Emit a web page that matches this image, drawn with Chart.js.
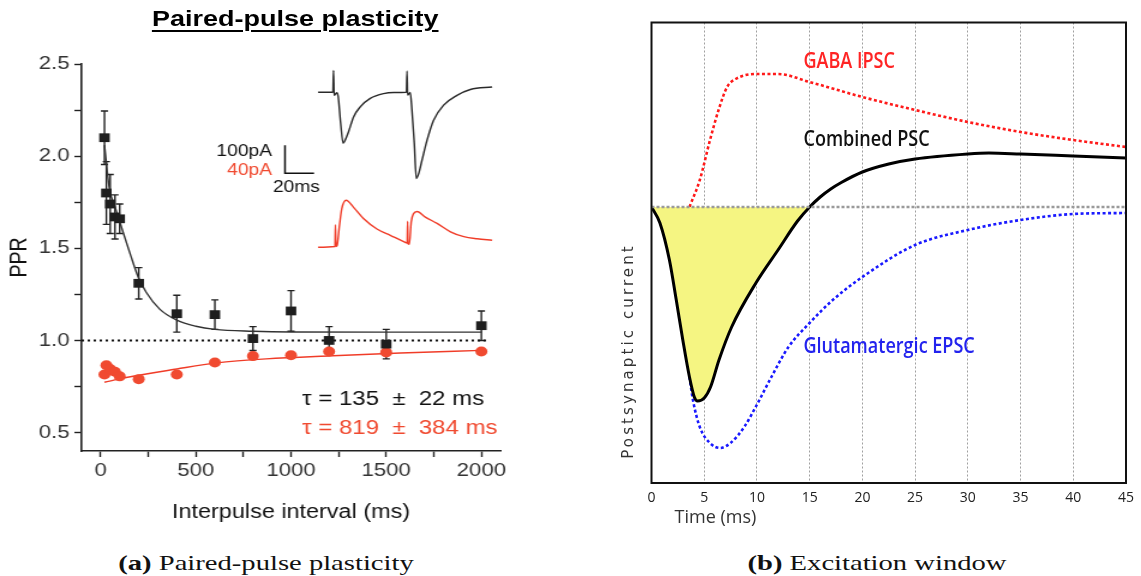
<!DOCTYPE html>
<html>
<head>
<meta charset="utf-8">
<script src="https://cdn.jsdelivr.net/npm/chart.js@4.4.1/dist/chart.umd.min.js"></script>
<style>
  body { margin:0; background:#fff; width:1141px; height:576px; overflow:hidden; position:relative; }
  #panelA { position:absolute; left:0; top:0; width:434px; height:540px; transform:scaleX(1.2); transform-origin:0 0; }
  #titleA { position:absolute; left:0; top:6px; width:492px; text-align:center; font:bold 22.5px 'Liberation Sans', Arial, sans-serif; line-height:26px; text-decoration:underline; text-decoration-thickness:2px; text-underline-offset:4px; color:#000; }
  #chartA { position:absolute; left:0; top:0; }
  #panelB { position:absolute; left:600px; top:0; width:541px; height:540px; }
  .caption { position:absolute; top:549px; width:400px; text-align:center; font:22px 'Liberation Serif', serif; line-height:28px; color:#111; white-space:nowrap; transform:scaleX(1.3); transform-origin:50% 50%; }
</style>
</head>
<body>
<div id="panelA">
  <div id="titleA">Paired-pulse plasticity</div>
  <canvas id="chartA" width="434" height="540"></canvas>
</div>
<div id="panelB">
  <canvas id="chartB" width="541" height="540"></canvas>
</div>
<div class="caption" style="left:66px"><b>(a)</b> Paired-pulse plasticity</div>
<div class="caption" style="left:677px"><b>(b)</b> Excitation window</div>

<script>
Chart.defaults.font.family = "'Liberation Sans', Arial, sans-serif";

// (a) paired-pulse ratio vs interpulse interval
const ippX = [20, 30, 50, 75, 100, 200, 400, 600, 800, 1000, 1200, 1500, 2000];
const pprBlack = [2.10, 1.80, 1.74, 1.67, 1.66, 1.31, 1.145, 1.14, 1.01, 1.16, 1.00, 0.98, 1.08];
const pprBlackErr = [0.145, 0.17, 0.16, 0.12, 0.08, 0.085, 0.10, 0.08, 0.065, 0.11, 0.075, 0.08, 0.08];
const pprRed = [0.815, 0.865, 0.845, 0.83, 0.805, 0.79, 0.815, 0.88, 0.915, 0.92, 0.94, 0.935, 0.94];

// tick positions (labels only on every other one)
const ippTicks = [0, 250, 500, 750, 1000, 1250, 1500, 1750, 2000];
const pprTicks = [0.5, 0.75, 1.0, 1.25, 1.5, 1.75, 2.0, 2.25, 2.5];

// exponential fits
const fitBlackX = [20, 45, 80, 120, 155, 195, 240, 310, 400, 500, 600, 800, 1000, 1500, 2000];
const fitBlackY = [2.06, 1.83, 1.71, 1.58, 1.47, 1.35, 1.26, 1.17, 1.11, 1.077, 1.06, 1.05, 1.046, 1.045, 1.045];
const fitRedX = [20, 120, 400, 610, 870, 1220, 1575, 2000];
const fitRedY = [0.773, 0.796, 0.845, 0.878, 0.90, 0.917, 0.932, 0.946];
const unityX = [-100, 2040];
const unityY = [1, 1];

// inset traces (ms, pA)
const traceT = [0, 10.2, 10.6, 11.0, 12.8, 13.8, 15.5, 17.2, 18.6, 20.9, 24.4, 29.0, 35.9, 45.0, 52.0, 60.8, 61.2, 61.6, 63.4, 64.6, 66.2, 67.6, 69.2, 71.5, 75.0, 79.5, 86.4, 95.6, 104.8, 119.8];
const traceBlack = [0, 0, 78, -11, -2, -15, -110, -182, -171, -142, -88, -52, -22, -5, -1, 0, 76, -10, -1, -64, -182, -308, -291, -243, -171, -100, -46, -11, 10, 19];
const traceRedT = [0, 11.6, 11.9, 12.3, 13.0, 14.7, 16.3, 19.3, 24.4, 31.2, 40.5, 49.7, 58.9, 61.3, 61.6, 61.9, 62.8, 64.1, 65.7, 68.1, 73.8, 81.9, 91.1, 100.3, 109.5, 119.8];
const traceRed = [0, 1, 32, 1, 2, 31, 55, 67, 57, 41, 26, 17, 8, 6, 37, 5, 4, 36, 48, 51, 43, 34, 22, 15, 12, 10];
const scaleBarT = [-22.8, -22.8, -2.8];
const scaleBarI = [-189, -289, -289];

// (b) excitation window (arbitrary units)
const zeroT = [0, 45];
const zeroV = [0, 0];
const pscT = [0, 0.8, 1.7, 2.35, 2.97, 3.6, 4.06, 4.37, 5.0, 5.6, 6.4, 7.6, 9.9, 12.0, 13.85, 15, 16, 17, 18, 20, 22.5, 25, 30, 32, 35, 40, 45];
const pscV = [0, -0.16, -0.53, -0.93, -1.33, -1.70, -1.90, -1.94, -1.91, -1.80, -1.53, -1.20, -0.76, -0.43, -0.14, 0.0, 0.10, 0.18, 0.245, 0.35, 0.43, 0.48, 0.53, 0.54, 0.53, 0.51, 0.49];
const ipscT = [3.6, 4.58, 5.55, 6.36, 7.17, 7.98, 10, 12, 15, 20, 25, 30, 35, 40, 45];
const ipscV = [0, 0.27, 0.67, 0.97, 1.20, 1.28, 1.33, 1.33, 1.25, 1.10, 0.97, 0.85, 0.75, 0.67, 0.60];
const epscT = [3.6, 3.93, 4.58, 5.55, 6.52, 7.49, 8.79, 9.98, 11.37, 12.99, 14.99, 17.19, 20, 25, 30, 35, 40, 45];
const epscV = [-1.70, -1.93, -2.20, -2.36, -2.41, -2.36, -2.20, -1.98, -1.70, -1.40, -1.16, -0.93, -0.70, -0.38, -0.23, -0.13, -0.07, -0.06];

const pts = (xs, ys) => xs.map((x, i) => ({ x: x, y: ys[i] }));
const isStep = (v, s) => Math.abs(v / s - Math.round(v / s)) < 1e-6;

// text drawn at data coordinates
const notes = items => ({
  id: 'notes',
  afterDatasetsDraw(chart) {
    const ctx = chart.ctx;
    items.forEach(n => {
      const px = chart.scales[n.xAxis || 'x'].getPixelForValue(n.x);
      const py = chart.scales[n.yAxis || 'y'].getPixelForValue(n.y);
      ctx.save();
      ctx.translate(px, py);
      if (n.rot) ctx.rotate(n.rot);
      ctx.scale(n.sx || 1, 1);
      ctx.font = n.font;
      if (n.spacing) ctx.letterSpacing = n.spacing;
      ctx.fillStyle = n.color;
      ctx.textAlign = n.align || 'left';
      ctx.textBaseline = 'middle';
      ctx.fillText(n.text, 0, 0);
      ctx.restore();
    });
  }
});

const errorBars = {
  id: 'errorBars',
  beforeDatasetsDraw(chart) {
    const { ctx, scales: { x, y } } = chart;
    ctx.save();
    ctx.strokeStyle = '#222';
    ctx.lineWidth = 1.4;
    ippX.forEach((v, i) => {
      const px = x.getPixelForValue(v);
      const top = y.getPixelForValue(pprBlack[i] + pprBlackErr[i]);
      const bot = y.getPixelForValue(pprBlack[i] - pprBlackErr[i]);
      ctx.beginPath();
      ctx.moveTo(px, top); ctx.lineTo(px, bot);
      ctx.moveTo(px - 3, top); ctx.lineTo(px + 3, top);
      ctx.moveTo(px - 3, bot); ctx.lineTo(px + 3, bot);
      ctx.stroke();
    });
    ctx.restore();
  }
};

const frame = {
  id: 'frame',
  afterDatasetsDraw(chart) {
    const { ctx, chartArea: a } = chart;
    ctx.save();
    ctx.strokeStyle = '#111';
    ctx.lineWidth = 2;
    ctx.strokeRect(a.left, a.top, a.right - a.left, a.bottom - a.top);
    ctx.restore();
  }
};

const red = '#f04a30';
const lbl = "'Liberation Sans', Arial, sans-serif";

new Chart(document.getElementById('chartA'), {
  type: 'line',
  data: {
    datasets: [
      { data: pts(ippX, pprBlack), showLine: false, pointStyle: 'rect', pointRadius: 6.2, pointBackgroundColor: '#1e1e1e', pointBorderWidth: 0 },
      { data: pts(ippX, pprRed), showLine: false, pointStyle: 'circle', pointRadius: 5, pointBackgroundColor: red, pointBorderWidth: 0 },
      { data: pts(fitBlackX, fitBlackY), borderColor: '#333', borderWidth: 1.4, pointRadius: 0, cubicInterpolationMode: 'monotone' },
      { data: pts(fitRedX, fitRedY), borderColor: '#f03c28', borderWidth: 1.4, pointRadius: 0, cubicInterpolationMode: 'monotone' },
      { data: pts(unityX, unityY), borderColor: '#111', borderWidth: 2, borderDash: [2, 3], pointRadius: 0 },
      { data: pts(traceT, traceBlack), xAxisID: 'xi', yAxisID: 'yi', borderColor: '#2a2a2a', borderWidth: 1.4, pointRadius: 0, cubicInterpolationMode: 'monotone' },
      { data: pts(traceRedT, traceRed), xAxisID: 'xi', yAxisID: 'yr', borderColor: '#f03c28', borderWidth: 1.4, pointRadius: 0, cubicInterpolationMode: 'monotone' },
      { data: pts(scaleBarT, scaleBarI), xAxisID: 'xi', yAxisID: 'yi', borderColor: '#111', borderWidth: 1.5, pointRadius: 0 }
    ]
  },
  options: {
    responsive: false, animation: false, devicePixelRatio: 1, events: [],
    layout: { padding: { left: 0, top: 64, right: 17, bottom: 0 } },
    plugins: { legend: { display: false }, tooltip: { enabled: false } },
    scales: {
      x: {
        type: 'linear', min: -100, max: 2100,
        afterBuildTicks: s => { s.ticks = ippTicks.map(v => ({ value: v })); },
        afterFit: s => { s.height = 89; },
        ticks: { autoSkip: false, maxRotation: 0, padding: 3, color: '#333', font: { family: lbl, size: 18.5 },
                 callback: v => isStep(v, 500) ? String(v) : '' },
        grid: { drawOnChartArea: false, tickLength: 6, tickColor: '#222', tickWidth: 1.4 },
        border: { color: '#222', width: 1.6 },
        title: { display: true, text: 'Interpulse interval (ms)', color: '#111', font: { family: lbl, size: 19.5 }, padding: { top: 0, bottom: 16 } }
      },
      y: {
        type: 'linear', min: 0.4, max: 2.5,
        afterBuildTicks: s => { s.ticks = pprTicks.map(v => ({ value: v })); },
        afterFit: s => { s.width = 68; },
        ticks: { autoSkip: false, padding: 4, color: '#333', font: { family: lbl, size: 18.5 },
                 callback: v => isStep(v, 0.5) ? v.toFixed(1) : '' },
        grid: { drawOnChartArea: false, tickLength: 6, tickColor: '#222', tickWidth: 1.4 },
        border: { color: '#222', width: 1.6 },
        title: { display: true, text: 'PPR', color: '#111', font: { family: lbl, size: 19.5 }, padding: { top: 5, bottom: 0 } }
      },
      xi: { type: 'linear', display: false, min: -162.8, max: 125.5 },
      yi: { type: 'linear', display: false, min: -1282, max: 101 },
      yr: { type: 'linear', display: false, min: -291.4, max: 261.9 }
    }
  },
  plugins: [errorBars, notes([
    { text: '100pA', x: 900, y: 2.022, align: 'right', color: '#111', font: `16px ${lbl}` },
    { text: '40pA', x: 900, y: 1.924, align: 'right', color: red, font: `16px ${lbl}` },
    { text: '20ms', x: 905, y: 1.832, color: '#111', font: `16px ${lbl}` },
    { text: 'τ = 135  ±  22 ms', x: 1058, y: 0.679, color: '#111', font: `20px ${lbl}` },
    { text: 'τ = 819  ±  384 ms', x: 1058, y: 0.522, color: red, font: `20px ${lbl}` }
  ])]
});

const sans = "'Open Sans', 'Noto Sans', sans-serif";

new Chart(document.getElementById('chartB'), {
  type: 'line',
  data: {
    datasets: [
      { data: pts(zeroT, zeroV), borderColor: '#9a9a9a', borderWidth: 2.5, borderDash: [3, 2], pointRadius: 0 },
      { data: pts(pscT, pscV), borderColor: '#000', borderWidth: 3, pointRadius: 0, cubicInterpolationMode: 'monotone',
        fill: { target: { value: 0 }, above: 'rgba(0,0,0,0)', below: '#f5f582' } },
      { data: pts(ipscT, ipscV), borderColor: '#ff1a1a', borderWidth: 2.6, borderDash: [3, 2.5], pointRadius: 0, cubicInterpolationMode: 'monotone' },
      { data: pts(epscT, epscV), borderColor: '#1a1aff', borderWidth: 2.6, borderDash: [3, 2.5], pointRadius: 0, cubicInterpolationMode: 'monotone' }
    ]
  },
  options: {
    responsive: false, animation: false, devicePixelRatio: 1, events: [],
    layout: { padding: { left: 51.5, top: 22.5, right: 8, bottom: 0 } },
    plugins: { legend: { display: false }, tooltip: { enabled: false } },
    scales: {
      x: {
        type: 'linear', min: 0, max: 45,
        afterFit: s => { s.height = 57; },
        ticks: { stepSize: 5, autoSkip: false, maxRotation: 0, padding: 7, color: '#222', font: { family: sans, size: 14 } },
        grid: { color: '#a0a0a0', lineWidth: 1, drawTicks: false },
        border: { display: false, dash: [2, 2] }
      },
      y: { type: 'linear', display: false, min: -2.76, max: 1.845 }
    }
  },
  plugins: [frame, notes([
    { text: 'GABA IPSC', x: 14.41, y: 1.45, color: '#ff2424', font: `600 22px ${sans}`, sx: 0.82 },
    { text: 'Combined PSC', x: 14.41, y: 0.67, color: '#111', font: `600 22px ${sans}`, sx: 0.82 },
    { text: 'Glutamatergic EPSC', x: 14.41, y: -1.40, color: '#2323ee', font: `600 22px ${sans}`, sx: 0.82 },
    { text: 'Time (ms)', x: 2.19, y: -3.11, color: '#333', font: `18px ${sans}` },
    { text: 'Postsynaptic current', x: -2.15, y: -1.44, rot: -Math.PI / 2, align: 'center', color: '#333', font: "15px 'DejaVu Sans', sans-serif", spacing: '3.1px' }
  ])]
});
</script>
</body>
</html>
